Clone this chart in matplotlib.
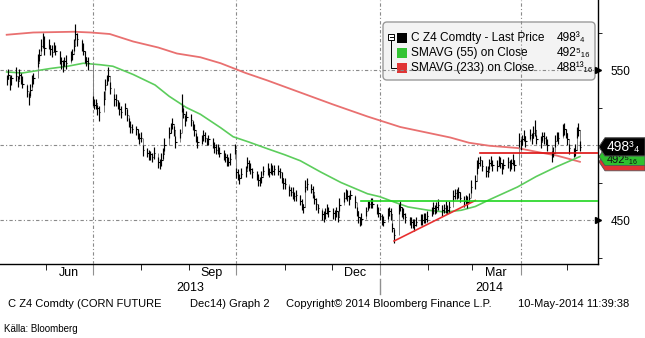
#!/usr/bin/env python3
# Corn future Dec14 (C Z4) - Bloomberg-style bar chart with moving averages

import numpy as np
import pandas as pd
import matplotlib
matplotlib.use('Agg')
import matplotlib.pyplot as plt
import matplotlib.dates as mdates
from matplotlib.patches import Polygon, FancyBboxPatch, Rectangle
from matplotlib.transforms import IdentityTransform, blended_transform_factory

plt.rcParams['font.family'] = ['Liberation Sans', 'DejaVu Sans']

# ---- data ----
close_2013_05 = [544, 547, 541, 545, 546, 543, 547, 545, 541, 536, 532, 537, 542, 545, 555, 560, 566, 569, 565]
close_2013_06 = [567, 564, 562, 566, 563, 558, 556, 553, 556, 555, 559, 561, 566, 574, 571, 567, 563, 559, 556, 555]
close_2013_07 = [530, 527, 528, 525, 522, 531, 540, 544, 546, 538, 531, 530, 527, 524, 522, 525, 520, 515, 512, 511, 511, 507, 505]
close_2013_08 = [505, 497, 495, 493, 494, 492, 495, 489, 487, 490, 494, 500, 508, 512, 514, 510, 502, 508, 526, 521, 517, 519]
close_2013_09 = [517, 513, 510, 505, 502, 504, 507, 505, 503, 504, 501, 499, 497, 498, 495, 494, 492, 490, 489, 491, 497]
close_2013_10 = [482, 480, 478, 481, 483, 488, 487, 484, 482, 480, 477, 476, 479, 483, 484, 482, 485, 483, 484, 483, 482, 478, 475]
close_2013_11 = [474, 470, 469, 468, 466, 467, 463, 461, 459, 472, 474, 471, 469, 464, 461, 458, 454, 452, 455, 457, 456]
close_2013_12 = [455, 453, 456, 452, 460, 465, 468, 466, 464, 467, 462, 456, 452, 449, 451, 456, 461, 461, 462, 461, 458, 455]
close_2014_01 = [453, 451, 449, 455, 456, 454, 445, 440, 458, 459, 456, 454, 452, 450, 449, 448, 447, 449, 451, 450, 452, 451, 453]
close_2014_02 = [456, 458, 457, 459, 460, 457, 458, 459, 457, 459, 466, 468, 467, 469, 465, 463, 464, 462, 465, 472]
close_2014_03 = [476, 485, 488, 490, 486, 483, 482, 488, 489, 487, 486, 490, 488, 485, 487, 489, 486, 488, 490, 487, 503]
close_2014_04 = [500, 504, 506, 503, 507, 505, 508, 510, 504, 502, 506, 505, 503, 500, 493, 495, 503, 506, 505, 509, 511, 508]
close_2014_05 = [504, 498, 495, 497, 508, 510, 498.75]

# distance from close up to the high / down to the low
wick_up = [3, 4, 5, 2, 6, 3, 4, 3, 5, 4, 3, 4, 5, 3, 6, 4, 5, 6, 8,
           4, 3, 5, 3, 4, 5, 3, 4, 3, 5, 4, 3, 5, 7, 4, 3, 5, 4, 3, 4,
           3, 4, 3, 2, 4, 5, 4, 3, 6, 4, 3, 4, 3, 5, 4, 3, 4, 3, 4, 3, 2, 4, 3,
           4, 3, 3, 4, 2, 3, 4, 3, 4, 5, 4, 5, 4, 3, 4, 3, 4, 3, 8, 4, 3, 4,
           4, 3, 4, 3, 4, 3, 3, 4, 2, 3, 4, 3, 4, 3, 4, 3, 3, 4, 3, 4, 4,
           3, 4, 3, 4, 3, 4, 3, 4, 3, 3, 4, 3, 4, 3, 4, 3, 3, 4, 3, 4, 3, 4, 3,
           4, 3, 3, 4, 3, 3, 4, 3, 2, 5, 4, 3, 4, 3, 4, 3, 3, 4, 3, 4, 3,
           3, 4, 3, 4, 5, 4, 3, 4, 3, 3, 4, 3, 4, 3, 4, 3, 2, 2, 3, 4, 3, 4,
           2, 3, 4, 3, 3, 4, 3, 4, 3, 4, 3, 4, 3, 2, 3, 3, 4, 3, 3, 4, 3, 4, 3,
           3, 4, 3, 3, 4, 3, 3, 4, 3, 4, 4, 3, 4, 3, 4, 3, 3, 4, 3, 5,
           4, 5, 4, 3, 4, 3, 4, 3, 4, 3, 4, 3, 4, 3, 4, 3, 4, 3, 4, 3, 5,
           4, 3, 4, 3, 4, 3, 5, 7, 3, 4, 3, 4, 3, 4, 3, 4, 4, 3, 4, 5, 4, 3,
           4, 3, 3, 4, 4, 5, 4]
wick_dn = [4, 3, 4, 5, 3, 4, 3, 4, 3, 4, 5, 4, 3, 4, 3, 4, 3, 4, 5,
           3, 4, 3, 4, 3, 4, 5, 4, 3, 4, 3, 4, 3, 4, 5, 4, 3, 4, 3, 5,
           4, 3, 4, 5, 6, 4, 3, 4, 3, 4, 5, 4, 3, 4, 4, 5, 4, 3, 4, 3, 4, 3, 4,
           3, 4, 3, 3, 4, 3, 4, 4, 3, 4, 3, 4, 3, 4, 3, 4, 4, 3, 4, 3, 4, 3,
           4, 3, 4, 3, 4, 3, 4, 3, 3, 4, 3, 4, 3, 4, 3, 4, 3, 4, 3, 4, 3,
           4, 3, 4, 3, 4, 3, 4, 3, 4, 3, 4, 3, 4, 3, 4, 3, 4, 3, 4, 3, 4, 3, 4,
           3, 4, 3, 4, 3, 4, 3, 4, 4, 3, 4, 3, 4, 3, 4, 3, 4, 3, 4, 3, 4,
           4, 3, 4, 3, 4, 3, 4, 3, 4, 3, 4, 3, 4, 3, 4, 3, 4, 3, 4, 3, 4, 3,
           3, 4, 3, 4, 3, 4, 3, 5, 4, 3, 4, 3, 4, 3, 4, 3, 4, 3, 4, 3, 4, 3, 4,
           3, 4, 3, 4, 3, 4, 3, 4, 3, 4, 3, 4, 3, 4, 3, 4, 3, 4, 3, 4,
           5, 4, 3, 4, 3, 4, 3, 4, 3, 4, 3, 4, 3, 4, 3, 4, 3, 4, 3, 4, 4,
           3, 4, 3, 4, 3, 4, 3, 4, 3, 4, 3, 4, 3, 4, 4, 3, 4, 3, 4, 3, 4, 3,
           4, 4, 3, 4, 3, 4, 3]

sma55_dates = ['2013-05-07', '2013-05-17', '2013-06-04', '2013-06-15', '2013-06-25', '2013-07-06',
               '2013-07-14', '2013-07-27', '2013-08-10', '2013-08-19', '2013-08-30', '2013-09-08',
               '2013-09-21', '2013-09-29', '2013-10-09', '2013-10-21', '2013-11-01', '2013-11-11',
               '2013-11-24', '2013-12-07', '2013-12-24', '2014-01-01', '2014-01-10', '2014-01-19',
               '2014-02-01', '2014-02-12', '2014-02-22', '2014-03-03', '2014-03-12', '2014-03-30',
               '2014-04-11', '2014-04-24', '2014-05-09']
sma55_vals = [548.7, 548, 551, 552.5, 554.5, 553.5, 552.5, 547, 540, 532.5, 525, 520.5,
              511.5, 505.5, 502, 497.5, 493.5, 489.5, 482, 475, 467.5, 465.5, 462, 458.7,
              456.5, 455.3, 456.5, 459, 463.5, 472, 479, 485.5, 492.3]

sma233_dates = ['2013-05-07', '2013-05-24', '2013-06-19', '2013-06-30', '2013-07-12', '2013-07-27',
                '2013-08-12', '2013-08-24', '2013-09-08', '2013-09-21', '2013-10-07', '2013-10-21',
                '2013-11-11', '2013-12-02', '2013-12-24', '2014-01-14', '2014-02-15', '2014-02-27',
                '2014-03-12', '2014-03-30', '2014-04-11', '2014-04-24', '2014-05-09']
sma233_vals = [573.5, 575, 575.5, 575, 574, 569, 565, 561, 558.5, 554.5, 548, 543,
               535, 527, 519, 512, 505, 501.5, 499.5, 498, 495.5, 493, 488.8]

# drawn-in trend lines
support_dates = ['2014-01-10', '2014-03-03']
support_vals = [436, 463]
green_level = 462.7
green_from = '2013-12-20'
red_level = 494.5
red_from = '2014-03-06'

legend_names = ['C Z4 Comdty - Last Price', 'SMAVG (55) on Close', 'SMAVG (233) on Close']
legend_values = ['498³₄', '492⁵₁₆', '488¹³₁₆']
legend_colors = ['#000000', '#33c433', '#e03434']

# ---- figure ----
W, H = 645, 338
fig = plt.figure(figsize=(W / 100, H / 100), dpi=100)
ax = fig.add_axes([0, 1 - 264 / H, 598 / W, 264 / H])
ID = IdentityTransform()


def px(x, y):
    """pixel position measured from top-left -> display coords"""
    return x, H - y


dates = pd.bdate_range('2013-05-07', '2014-05-09')
close = np.array(close_2013_05 + close_2013_06 + close_2013_07 + close_2013_08 + close_2013_09 +
                 close_2013_10 + close_2013_11 + close_2013_12 + close_2014_01 + close_2014_02 +
                 close_2014_03 + close_2014_04 + close_2014_05, dtype=float)
assert len(close) == len(dates) == len(wick_up) == len(wick_dn)
xd = mdates.date2num(dates)
prev = np.r_[close[0], close[:-1]]

jan1 = mdates.date2num(pd.Timestamp('2014-01-01'))
ax.set_xlim(jan1 - 380 / 1.562, jan1 + 218 / 1.562)
ax.set_ylim(420.67, 596.67)

# grid (drawn above the legend box, like the original)
grid_kw = dict(color='#8a8a8a', lw=0.8, linestyle=(0, (3, 2, 1, 2)), zorder=3)
for v in [450, 500, 550]:
    ax.axhline(v, **grid_kw)
quarters = mdates.date2num(pd.to_datetime(['2013-07-01', '2013-10-01', '2014-01-01', '2014-04-01']))
for q in quarters:
    ax.axvline(q, **grid_kw)

# moving averages
ax.plot(mdates.date2num(pd.to_datetime(sma233_dates)), sma233_vals, color='#e97070', lw=1.3, zorder=4)
ax.plot(mdates.date2num(pd.to_datetime(sma55_dates)), sma55_vals, color='#5ccd5c', lw=1.2, zorder=4)

# price bars
ax.vlines(xd, np.minimum(prev, close), np.maximum(prev, close), color='#808080', lw=0.7, zorder=5)
ax.vlines(xd, close - np.array(wick_dn), close + np.array(wick_up), color='black', lw=0.85, zorder=6)
ax.hlines(close, xd, xd + 0.9, color='black', lw=0.8, zorder=6)

# trend lines
ax.plot(mdates.date2num(pd.to_datetime(support_dates)), support_vals, color='#e83030', lw=1.2, zorder=7)
ax.plot([mdates.date2num(pd.Timestamp(green_from)), ax.get_xlim()[1]], [green_level] * 2,
        color='#1fd61f', lw=1.2, zorder=7)
ax.plot([mdates.date2num(pd.Timestamp(red_from)), ax.get_xlim()[1]], [red_level] * 2,
        color='#dd1111', lw=1.2, zorder=7)

# axes frame
for s in ['top', 'left']:
    ax.spines[s].set_visible(False)
ax.spines['right'].set_linewidth(1.0)
ax.spines['bottom'].set_linewidth(1.0)

# x ticks
months = mdates.date2num(pd.date_range('2013-06-01', '2014-05-01', freq='MS'))
ax.set_xticks(quarters)
ax.set_xticks([m for m in months if m not in quarters], minor=True)
ax.tick_params(axis='x', which='major', length=8, color='#909090', labelbottom=False)
ax.tick_params(axis='x', which='minor', length=4, color='black', labelbottom=False)
xtrans = blended_transform_factory(ax.transData, ID)
for lab, d in [('Jun', '2013-06-16'), ('Sep', '2013-09-15'), ('Dec', '2013-12-16'), ('Mar', '2014-03-16')]:
    ax.text(mdates.date2num(pd.Timestamp(d)), H - 273, lab, transform=xtrans,
            ha='center', va='center', fontsize=9, clip_on=False)
fig.text(190, H - 288, '2013', transform=ID, ha='center', va='center', fontsize=9)
fig.text(489, H - 288, '2014', transform=ID, ha='center', va='center', fontsize=9)
fig.add_artist(plt.Line2D([380, 380], [H - 279, H - 294], color='#909090', lw=1, transform=ID))

# y ticks on the right
ax.yaxis.tick_right()
ax.set_yticks([450, 550])
ax.set_yticks([425, 475, 500, 525, 575], minor=True)
ax.tick_params(axis='y', which='major', length=0, pad=9, labelsize=8.5)
ax.tick_params(axis='y', which='minor', length=3, color='black')
ytrans = blended_transform_factory(ax.transAxes, ax.transData)
ax.plot([1.0, 1.0], [450, 550], transform=ytrans, ls='none', marker='>', ms=5,
        color='black', clip_on=False, zorder=8)

# legend box
fig.add_artist(FancyBboxPatch(px(383, 80), 212, 58, boxstyle='round,pad=0,rounding_size=4',
                              transform=ID, facecolor='#f3f3f3', edgecolor='#9a9a9a', lw=1.0, zorder=1))
ax.set_zorder(2)
ax.patch.set_visible(False)
fig.add_artist(Rectangle(px(388, 40), 6, 6, transform=ID, facecolor='white', edgecolor='black', lw=0.7))
fig.add_artist(plt.Line2D([389.5, 392.5], [H - 37, H - 37], color='black', lw=0.7, transform=ID))
fig.add_artist(plt.Line2D([391, 391, 396], [H - 40, H - 68, H - 68], color='black', lw=0.7, transform=ID))
for i, (name, val, col) in enumerate(zip(legend_names, legend_values, legend_colors)):
    yc = 38 + i * 15.2
    fig.add_artist(Rectangle(px(397, yc + 5), 10, 10.5, transform=ID, facecolor=col, edgecolor='none'))
    fig.text(411, H - yc, name, transform=ID, ha='left', va='center', fontsize=8.6)
    fig.text(557, H - yc, val, transform=ID, ha='left', va='center', fontsize=8.6)

# last value tags on the right edge (red and green sit behind the black one)
tag_vals = [488.8, 492.3, 498.75]
tag_cols = ['#e03434', '#2fc02f', '#000000']
for v, c in zip(tag_vals, tag_cols):
    yd = ax.transData.transform((ax.get_xlim()[0], v))[1]
    pts = [(599, yd), (605, yd + 9), (645, yd + 9), (645, yd - 9), (605, yd - 9)]
    fig.add_artist(Polygon(pts, closed=True, transform=ID, facecolor=c, edgecolor='#555555', lw=0.6))
yg = ax.transData.transform((0, tag_vals[1]))[1]
yb = ax.transData.transform((0, tag_vals[2]))[1]
fig.text(607, yg - 3, '492⁵₁₆', transform=ID, ha='left', va='center', fontsize=8, color='#111111')
# redraw the black tag on top so only the lower part of the green label shows
pts = [(599, yb), (605, yb + 9), (645, yb + 9), (645, yb - 9), (605, yb - 9)]
fig.add_artist(Polygon(pts, closed=True, transform=ID, facecolor='black', edgecolor='#555555', lw=0.6, zorder=5))
fig.text(607, yb, '498³₄', transform=ID, ha='left', va='center', fontsize=10, color='white', zorder=6)

# footer
fig.text(8, H - 304, 'C Z4 Comdty (CORN FUTURE', transform=ID, va='center', fontsize=8)
fig.text(190, H - 304, 'Dec14) Graph 2', transform=ID, va='center', fontsize=8)
fig.text(286, H - 304, 'Copyright© 2014 Bloomberg Finance L.P.', transform=ID, va='center', fontsize=8)
fig.text(518, H - 304, '10-May-2014 11:39:38', transform=ID, va='center', fontsize=8)
fig.text(4, H - 329, 'Källa: Bloomberg', transform=ID, va='center', fontsize=7)

fig.savefig('out.png', dpi=100)
plt.close(fig)
